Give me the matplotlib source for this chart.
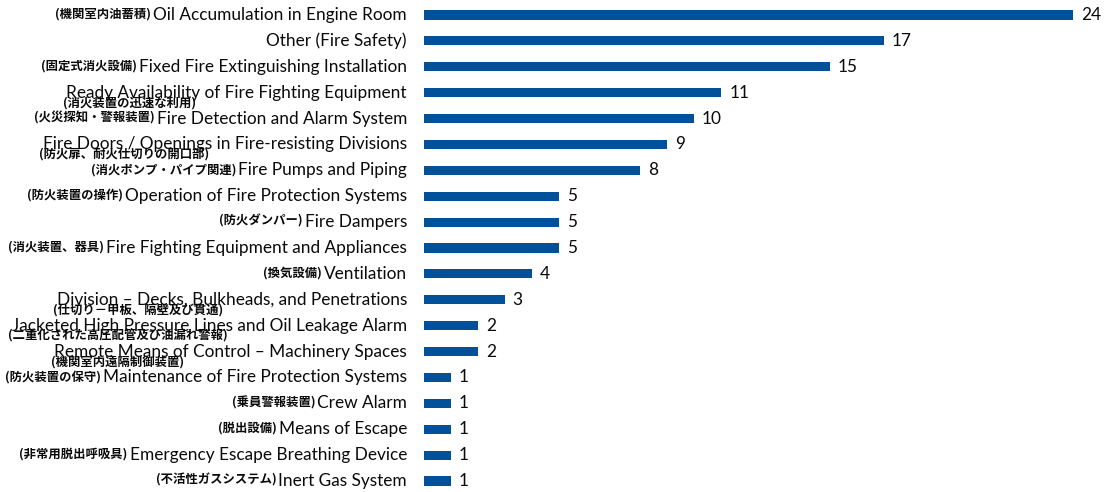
import matplotlib
matplotlib.use("Agg")
import matplotlib.pyplot as plt
from matplotlib.transforms import blended_transform_factory

# Deficiency categories (English), their Japanese notes, and counts
categories = [
    "Oil Accumulation in Engine Room",
    "Other (Fire Safety)",
    "Fixed Fire Extinguishing Installation",
    "Ready Availability of Fire Fighting Equipment",
    "Fire Detection and Alarm System",
    "Fire Doors / Openings in Fire-resisting Divisions",
    "Fire Pumps and Piping",
    "Operation of Fire Protection Systems",
    "Fire Dampers",
    "Fire Fighting Equipment and Appliances",
    "Ventilation",
    "Division \u2013 Decks, Bulkheads, and Penetrations",
    "Jacketed High Pressure Lines and Oil Leakage Alarm",
    "Remote Means of Control \u2013 Machinery Spaces",
    "Maintenance of Fire Protection Systems",
    "Crew Alarm",
    "Means of Escape",
    "Emergency Escape Breathing Device",
    "Inert Gas System",
]
japanese = [
    "(機関室内油蓄積)",
    "",
    "(固定式消火設備)",
    "(消火装置の迅速な利用)",
    "(火災探知・警報装置)",
    "(防火扉、耐火仕切りの開口部)",
    "(消火ポンプ・パイプ関連)",
    "(防火装置の操作)",
    "(防火ダンパー)",
    "(消火装置、器具)",
    "(換気設備)",
    "(仕切り－甲板、隔壁及び貫通)",
    "(二重化された高圧配管及び油漏れ警報)",
    "(機関室内遠隔制御装置)",
    "(防火装置の保守)",
    "(乗員警報装置)",
    "(脱出設備)",
    "(非常用脱出呼吸具)",
    "(不活性ガスシステム)",
]
# True where the Japanese note sits on a second line under the English name
note_below = [False, False, False, True, False, True, False, False, False, False,
              False, True, True, True, False, False, False, False, False]
counts = [24, 17, 15, 11, 10, 9, 8, 5, 5, 5, 4, 3, 2, 2, 1, 1, 1, 1, 1]

BAR_COLOR = "#00519a"
TEXT_COLOR = "#0a0a0a"
EN_FONT = ["Lato", "DejaVu Sans"]
JP_FONT = ["Noto Sans CJK JP", "DejaVu Sans"]
EN_SIZE = 12.4
JP_SIZE = 8.9

W, H = 1105, 492
fig = plt.figure(figsize=(W / 100, H / 100), dpi=100)
ax = fig.add_axes([424 / W, 0, 1 - 424 / W, 1])

ypos = list(range(len(categories)))
ax.barh(ypos, counts, height=0.35, color=BAR_COLOR, edgecolor="none")
ax.set_xlim(0, 25.18)
ax.set_ylim(18.425, -0.579)
ax.axis("off")

# value labels at bar ends
for y, v in zip(ypos, counts):
    ax.annotate(str(v), xy=(v, y), xytext=(5.5, 0), textcoords="offset points",
                ha="left", va="center", fontsize=EN_SIZE, family=EN_FONT,
                color=TEXT_COLOR)

# category labels to the left of the bars
trans = blended_transform_factory(fig.transFigure, ax.transData)
for y, en, jp, below in zip(ypos, categories, japanese, note_below):
    t = ax.text(407 / W, y, en, transform=trans, ha="right", va="center",
                fontsize=EN_SIZE, family=EN_FONT, color=TEXT_COLOR)
    if not jp:
        continue
    if below:
        ax.annotate(jp, xy=(0, 0), xycoords=t, xytext=(-2.5, -1.5),
                    textcoords="offset points", ha="left", va="center",
                    fontsize=JP_SIZE, fontweight="bold", family=JP_FONT,
                    color=TEXT_COLOR)
    else:
        ax.annotate(jp, xy=(0, 0.5), xycoords=t, xytext=(-1.5, 0.5),
                    textcoords="offset points", ha="right", va="center",
                    fontsize=JP_SIZE, fontweight="bold", family=JP_FONT,
                    color=TEXT_COLOR)

fig.savefig("out.png", dpi=100)
